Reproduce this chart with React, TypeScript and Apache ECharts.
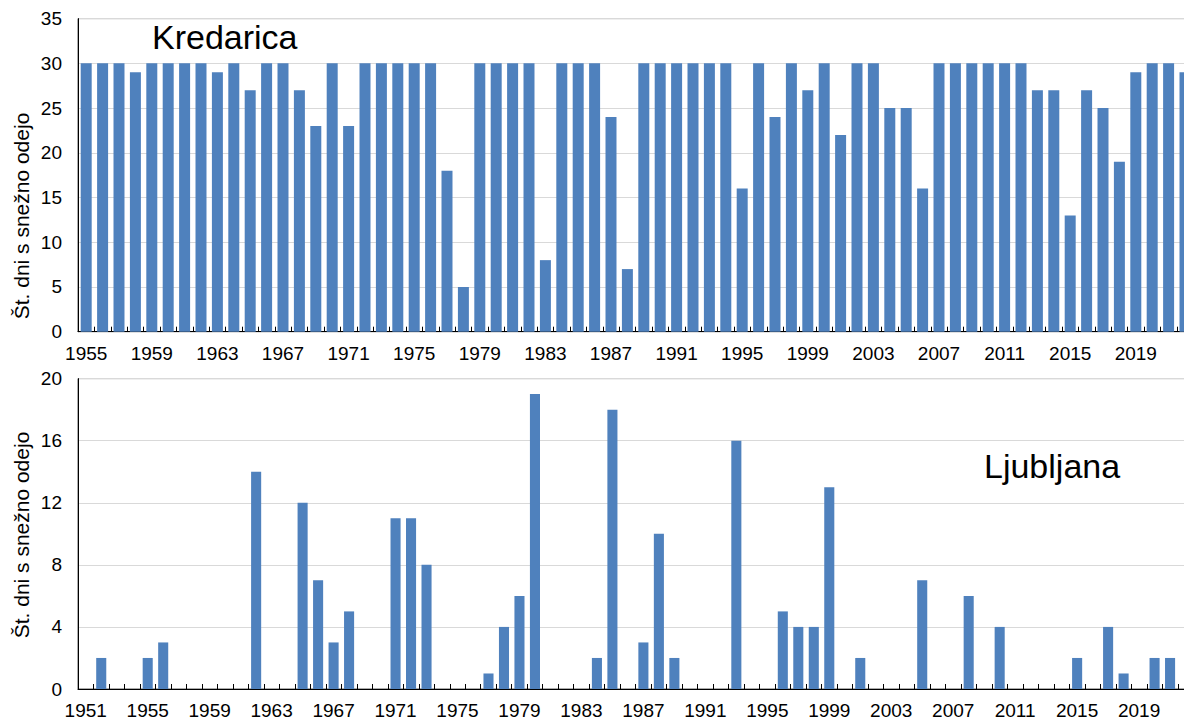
import React, { useEffect, useRef } from 'react';
import * as echarts from 'echarts';

const kredaricaYears = [
  '1955','1956','1957','1958','1959','1960','1961','1962','1963','1964',
  '1965','1966','1967','1968','1969','1970','1971','1972','1973','1974',
  '1975','1976','1977','1978','1979','1980','1981','1982','1983','1984',
  '1985','1986','1987','1988','1989','1990','1991','1992','1993','1994',
  '1995','1996','1997','1998','1999','2000','2001','2002','2003','2004',
  '2005','2006','2007','2008','2009','2010','2011','2012','2013','2014',
  '2015','2016','2017','2018','2019','2020','2021','2022',
];
const kredaricaValues = [
  30, 30, 30, 29, 30, 30, 30, 30, 29, 30,
  27, 30, 30, 27, 23, 30, 23, 30, 30, 30,
  30, 30, 18, 5, 30, 30, 30, 30, 8, 30,
  30, 30, 24, 7, 30, 30, 30, 30, 30, 30,
  16, 30, 24, 30, 27, 30, 22, 30, 30, 25,
  25, 16, 30, 30, 30, 30, 30, 30, 27, 27,
  13, 27, 25, 19, 29, 30, 30, 29,
];

const ljubljanaYears = [
  '1951','1952','1953','1954','1955','1956','1957','1958','1959','1960',
  '1961','1962','1963','1964','1965','1966','1967','1968','1969','1970',
  '1971','1972','1973','1974','1975','1976','1977','1978','1979','1980',
  '1981','1982','1983','1984','1985','1986','1987','1988','1989','1990',
  '1991','1992','1993','1994','1995','1996','1997','1998','1999','2000',
  '2001','2002','2003','2004','2005','2006','2007','2008','2009','2010',
  '2011','2012','2013','2014','2015','2016','2017','2018','2019','2020',
  '2021','2022',
];
const ljubljanaValues = [
  0, 2, 0, 0, 2, 3, 0, 0, 0, 0,
  0, 14, 0, 0, 12, 7, 3, 5, 0, 0,
  11, 11, 8, 0, 0, 0, 1, 4, 6, 19,
  0, 0, 0, 2, 18, 0, 3, 10, 2, 0,
  0, 0, 16, 0, 0, 5, 4, 4, 13, 0,
  2, 0, 0, 0, 7, 0, 0, 6, 0, 4,
  0, 0, 0, 0, 2, 0, 4, 1, 0, 2,
  2, 0,
];

const FONT = '"Liberation Sans", Arial, sans-serif';
const AXIS_TITLE = 'Št. dni s snežno odejo';

export default function App() {
  const ref = useRef<HTMLDivElement>(null);

  useEffect(() => {
    if (!ref.current) return;
    const chart = echarts.init(ref.current, null, { renderer: 'svg' });

    const xAxisBase = (data: string[], gridIndex: number) => ({
      type: 'category',
      gridIndex,
      data,
      boundaryGap: true,
      axisLine: { show: true, lineStyle: { color: '#000', width: 1 } },
      axisTick: { show: true, inside: true, length: 5, interval: 0, lineStyle: { color: '#000' } },
      axisLabel: { interval: 3, fontSize: 19, margin: 12, color: '#000', fontFamily: FONT },
      splitLine: { show: false },
    });

    const yAxisBase = (max: number, interval: number, gridIndex: number) => ({
      type: 'value',
      gridIndex,
      min: 0,
      max,
      interval,
      axisLine: { show: true, lineStyle: { color: '#000', width: 1 } },
      axisTick: { show: false },
      axisLabel: { fontSize: 19, margin: 16, color: '#000', fontFamily: FONT },
      splitLine: { show: true, lineStyle: { color: '#d9d9d9', width: 1 } },
    });

    chart.setOption({
      animation: false,
      backgroundColor: '#fff',
      grid: [
        { left: 78, top: 18.6, width: 1115.2, height: 313.1, show: true, borderColor: '#595959', borderWidth: 1, containLabel: false },
        { left: 78, top: 378.6, width: 1115.3, height: 310.7, show: true, borderColor: '#595959', borderWidth: 1, containLabel: false },
      ],
      xAxis: [xAxisBase(kredaricaYears, 0), xAxisBase(ljubljanaYears, 1)],
      yAxis: [yAxisBase(35, 5, 0), yAxisBase(20, 4, 1)],
      series: [
        {
          type: 'bar',
          xAxisIndex: 0,
          yAxisIndex: 0,
          data: kredaricaValues,
          barCategoryGap: '33%',
          itemStyle: { color: '#4f81bd' },
        },
        {
          type: 'bar',
          xAxisIndex: 1,
          yAxisIndex: 1,
          data: ljubljanaValues,
          barCategoryGap: '35%',
          itemStyle: { color: '#4f81bd' },
        },
      ],
      graphic: [
        {
          type: 'text',
          left: 152,
          top: 20,
          style: { text: 'Kredarica', fontSize: 34, fill: '#000', fontFamily: FONT },
        },
        {
          type: 'text',
          left: 984,
          top: 449,
          style: { text: 'Ljubljana', fontSize: 34, fill: '#000', fontFamily: FONT },
        },
        {
          type: 'text',
          x: 21,
          y: 216,
          rotation: Math.PI / 2,
          style: {
            text: AXIS_TITLE,
            fontSize: 21,
            fill: '#000',
            fontFamily: FONT,
            align: 'center',
            verticalAlign: 'middle',
          },
        },
        {
          type: 'text',
          x: 21,
          y: 535,
          rotation: Math.PI / 2,
          style: {
            text: AXIS_TITLE,
            fontSize: 21,
            fill: '#000',
            fontFamily: FONT,
            align: 'center',
            verticalAlign: 'middle',
          },
        },
      ],
    });

    return () => chart.dispose();
  }, []);

  return (
    <div
      ref={ref}
      style={{ position: 'fixed', left: 0, top: 0, width: 1200, height: 720, background: '#fff' }}
    />
  );
}
